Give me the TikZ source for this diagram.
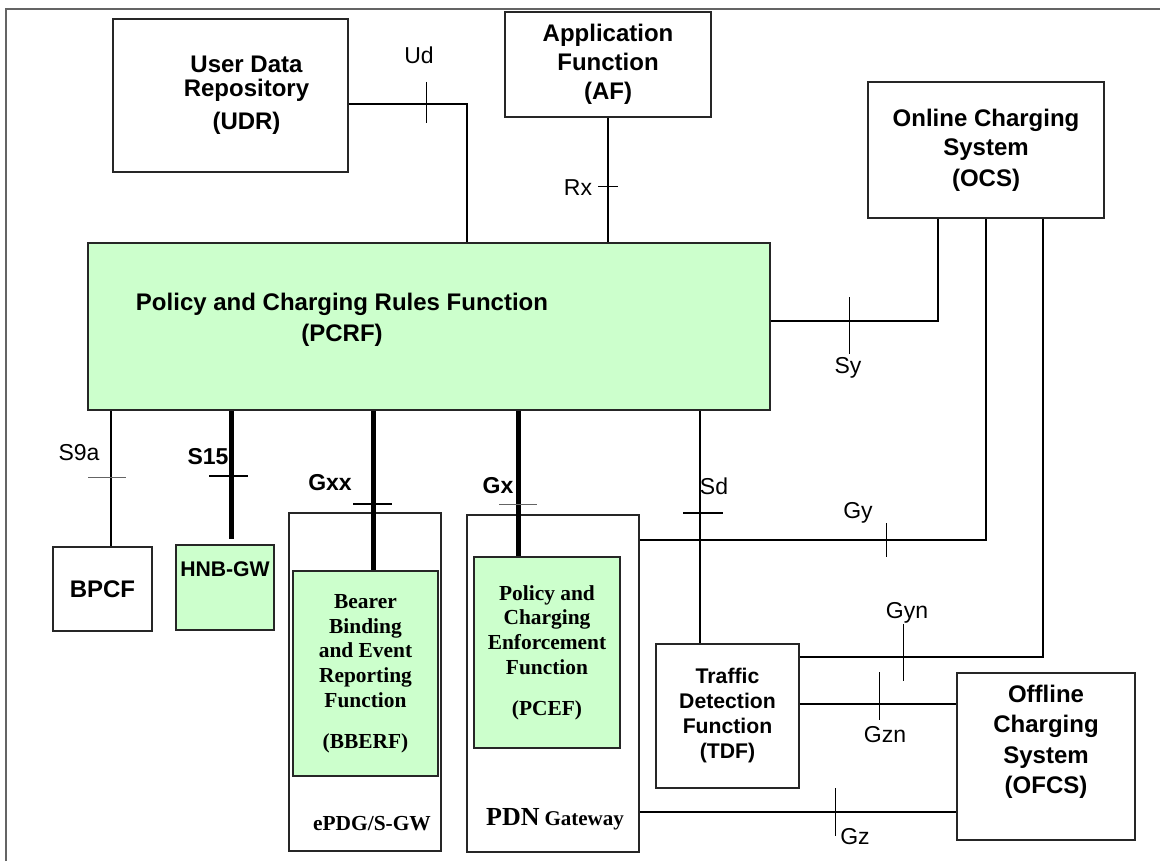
\documentclass[tikz,border=0pt]{standalone}
\usepackage{fontspec}
\setmainfont{Liberation Sans}
\newfontfamily\timesfont{Liberation Serif}
\usepackage{tikz}
\usetikzlibrary{positioning}
\definecolor{pcrfgreen}{RGB}{204,255,204}
\definecolor{framegray}{RGB}{100,100,100}
\newcommand{\boxfont}{\bfseries\fontsize{12}{14.5}\selectfont}
\newcommand{\smallboxfont}{\bfseries\fontsize{10.6}{12.5}\selectfont}
\newcommand{\ifacefont}{\fontsize{11.5}{13}\selectfont}
\newcommand{\serfont}{\timesfont\bfseries\fontsize{10.7}{12.4}\selectfont}

\begin{document}
\begin{tikzpicture}[x=0.5pt, y=-0.5pt,
	box/.style={draw=black!85, line width=0.75pt, inner sep=0pt, align=center, font=\boxfont},
	greenbox/.style={box, fill=pcrfgreen},
	iface/.style={line width=0.55pt},
	fat/.style={line width=2.5pt},
	bar/.style={line width=0.5pt},
	fatbar/.style={line width=1.3pt},
	lbl/.style={font=\ifacefont, inner sep=0pt},
	blbl/.style={font=\ifacefont\bfseries, inner sep=0pt}]
		\useasboundingbox (0,0) rectangle (1160,861);
		\draw[framegray, line width=0.6pt] (6,861) -- (6,9) -- (1160,9);
		\node[box, minimum width=117.5pt, minimum height=76.5pt] (udr) at (230.5,95.5) {\hspace*{16pt}User Data\\[-2.5pt]\hspace*{16pt}Repository\\[2pt]\hspace*{16pt}(UDR)};
		\node[box, minimum width=103pt, minimum height=52.5pt] (af) at (608,64.5) {Application\\Function\\(AF)};
		\node[box, minimum width=118pt, minimum height=68pt] (ocs) at (986,150) {Online Charging\\System\\[1pt](OCS)};
		\node[greenbox, minimum width=341pt, minimum height=83.5pt] (pcrf) at (429,326.5) {};
		\node[font=\boxfont\fontsize{12}{15.5}\selectfont, align=center] (pcrftxt) at (342,320) {Policy and Charging Rules Function\\(PCRF)};
		\node[box, minimum width=49.5pt, minimum height=42pt] (bpcf) at (102.5,589) {BPCF};
		\node[greenbox, font=\smallboxfont, minimum width=49pt, minimum height=42.5pt] (hnb) at (225,587.5) {HNB-GW\\[6pt]};
		\node[box, minimum width=76pt, minimum height=169pt] (epdg) at (365,682) {};
		\node[greenbox, font=\serfont, minimum width=72.5pt, minimum height=102.5pt] (bberf) at (365.5,673.5) {Bearer\\Binding\\and Event\\Reporting\\Function\\[8pt](BBERF)};
		\node[font=\serfont] (epdglbl) at (372,824) {ePDG/S-GW};
		\node[box, minimum width=86pt, minimum height=168.5pt] (pdn) at (553,683.5) {};
		\node[greenbox, font=\serfont, minimum width=73pt, minimum height=95.5pt] (pcef) at (547,652.5) {Policy and\\Charging\\Enforcement\\Function\\[8pt](PCEF)};
		\node[font=\timesfont\bfseries] (pdnlbl) at (555,819) {{\fontsize{13}{15}\selectfont PDN} {\fontsize{10.5}{12}\selectfont Gateway}};
		\node[box, font=\smallboxfont, minimum width=71.5pt, minimum height=72pt] (tdf) at (727.5,716) {Traffic\\Detection\\Function\\(TDF)};
		\node[box, font=\bfseries\fontsize{12}{15.2}\selectfont, minimum width=89pt, minimum height=83.5pt] (ofcs) at (1046,756.5) {Offline\\Charging\\System\\(OFCS)\\[2pt]};
		\coordinate (ud) at (467,104);
		\coordinate (sy) at (938,321);
		\coordinate (gy) at (986,540);
		\coordinate (gyn) at (1043,657);
		\coordinate (gzn) at (880,704);
		\coordinate (gz) at (835,812);
		\coordinate (sd) at (700,513);
		\coordinate (s9a) at (111,477);
		\coordinate (s15) at (231,476);
		\coordinate (gxx) at (373,504);
		\coordinate (gx) at (518,504);
		\draw[iface] (udr.east |- ud) -| (pcrf.north -| ud);
		\draw[iface] (af.south) -- (af.south |- pcrf.north);
		\draw[iface] (pcrf.east |- sy) -| (ocs.south -| sy);
		\draw[iface] (pdn.east |- gy) -| (ocs.south -| gy);
		\draw[iface] (tdf.east |- gyn) -| (ocs.south -| gyn);
		\draw[iface] (tdf.east |- gzn) -- (ofcs.west |- gzn);
		\draw[iface] (pdn.east |- gz) -- (ofcs.west |- gz);
		\draw[iface] (pcrf.south -| sd) -- (tdf.north -| sd);
		\draw[iface] (pcrf.south -| s9a) -- (bpcf.north -| s9a);
		\draw[fat, shorten >=2.5pt] (pcrf.south -| s15) -- (hnb.north -| s15);
		\draw[fat] (pcrf.south -| gxx) -- (bberf.north -| gxx);
		\draw[fat] (pcrf.south -| gx) -- (pcef.north -| gx);
		\draw[bar] (426,82) -- (426,123);
		\draw[bar] (598,187) -- (618,187);
		\draw[bar] (849,297) -- (849,354);
		\draw[bar, framegray] (88,477) -- (126,477);
		\draw[fatbar] (209,476) -- (248,476);
		\draw[fatbar] (353,504) -- (392,504);
		\draw[bar, framegray] (499,504) -- (537,504);
		\draw[fatbar] (683,513) -- (723,513);
		\draw[bar] (886,523) -- (886,557);
		\draw[bar] (903,624) -- (903,681);
		\draw[bar] (879,672) -- (879,720);
		\draw[bar] (835,788) -- (835,836);
		\node[lbl] (udlbl) at (419,55) {Ud};
		\node[lbl] (rxlbl) at (578,188) {Rx};
		\node[lbl] (sylbl) at (848,368) {Sy};
		\node[lbl] (s9albl) at (79,453) {S9a};
		\node[blbl] (s15lbl) at (208,457) {S15};
		\node[blbl] (gxxlbl) at (330,483) {Gxx};
		\node[blbl] (gxlbl) at (498,486) {Gx};
		\node[lbl] (sdlbl) at (714,486) {Sd};
		\node[lbl] (gylbl) at (858,513) {Gy};
		\node[lbl] (gynlbl) at (907,613) {Gyn};
		\node[lbl] (gznlbl) at (885,735) {Gzn};
		\node[lbl] (gzlbl) at (855,837) {Gz};
	\end{tikzpicture}
\end{document}
